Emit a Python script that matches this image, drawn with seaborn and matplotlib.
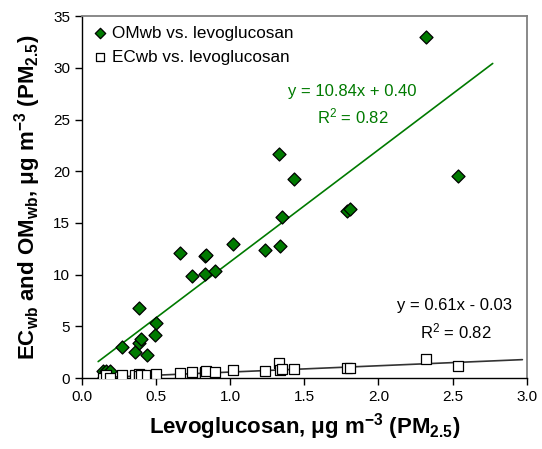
import matplotlib
matplotlib.use("Agg")
import matplotlib.pyplot as plt
import numpy as np
import pandas as pd
import seaborn as sns

# Levoglucosan concentrations (ug m-3) for each sample
levoglucosan = [0.144, 0.165, 0.193, 0.27, 0.357, 0.387, 0.387, 0.396, 0.436,
                0.492, 0.499, 0.665, 0.744, 0.829, 0.829, 0.84, 0.897, 1.02,
                1.234, 1.328, 1.335, 1.347, 1.427, 1.785, 1.807, 2.32, 2.533]
# Wood-burning organic matter (ug m-3)
om_wb = [0.70, 0.70, 0.70, 3.03, 2.48, 6.77, 3.42, 3.77, 2.19,
         4.16, 5.35, 12.1, 9.9, 10.06, 11.8, 11.9, 10.35, 12.96,
         12.4, 21.66, 12.8, 15.6, 19.27, 16.15, 16.34, 32.95, 19.57]
# Wood-burning elemental carbon (ug m-3)
ec_wb = [0.05, 0.25, 0.05, 0.30, 0.25, 0.40, 0.20, 0.30, 0.25,
         0.30, 0.35, 0.48, 0.58, 0.60, 0.45, 0.68, 0.58, 0.74,
         0.70, 1.42, 0.77, 0.85, 0.87, 1.00, 1.00, 1.84, 1.16]

# Linear fits: slope, intercept, R^2, x-extent of the trend line
om_fit = (10.84, 0.40, 0.82, (0.11, 2.77))
ec_fit = (0.61, -0.03, 0.82, (0.11, 2.97))

sns.set_style("white")
plt.rcParams["font.family"] = ["Liberation Sans", "DejaVu Sans"]
plt.rcParams["mathtext.default"] = "regular"
plt.rcParams["text.color"] = "black"
plt.rcParams["axes.labelcolor"] = "black"

green = "#007a00"

fig = plt.figure(figsize=(5.42, 4.49), dpi=100)
ax = fig.add_axes([0.151, 0.158, 0.821, 0.806])

df = pd.DataFrame({"lev": levoglucosan, "om": om_wb, "ec": ec_wb})

sns.scatterplot(data=df, x="lev", y="om", marker="D", s=44, color=green,
                edgecolor="black", linewidth=0.9, ax=ax, zorder=3,
                label="OMwb vs. levoglucosan")
sns.scatterplot(data=df, x="lev", y="ec", marker="s", s=48, color="white",
                edgecolor="black", linewidth=0.9, ax=ax, zorder=3,
                label="ECwb vs. levoglucosan")

for (m, b, r2, (x0, x1)), col in [(om_fit, green), (ec_fit, "#333333")]:
    xs = np.array([x0, x1])
    ax.plot(xs, m * xs + b, color=col, lw=1.2, zorder=2)

ax.text(1.82, 27.75, f"y = {om_fit[0]:.2f}x + {om_fit[1]:.2f}", color=green,
        fontsize=12, ha="center", va="center")
ax.text(1.83, 25.3, f"R$^2$ = {om_fit[2]:.2f}", color=green, fontsize=12,
        ha="center", va="center")
ax.text(2.515, 7.06, f"y = {ec_fit[0]:.2f}x - {abs(ec_fit[1]):.2f}",
        color="black", fontsize=12, ha="center", va="center")
ax.text(2.52, 4.5, f"R$^2$ = {ec_fit[2]:.2f}", color="black", fontsize=12,
        ha="center", va="center")

ax.set_xlim(0, 3.0)
ax.set_ylim(0, 35)
ax.set_xticks(np.arange(0, 3.01, 0.5))
ax.set_yticks(np.arange(0, 36, 5))
ax.set_xticklabels([f"{v:.1f}" for v in np.arange(0, 3.01, 0.5)])
ax.tick_params(axis="both", direction="out", length=5, width=1,
               labelsize=11, colors="black", bottom=True, left=True)

for side in ["left", "bottom"]:
    ax.spines[side].set_color("black")
    ax.spines[side].set_linewidth(1.0)
for side in ["top", "right"]:
    ax.spines[side].set_color("#808080")
    ax.spines[side].set_linewidth(1.3)

ax.set_xlabel(r"Levoglucosan, μg m$^{-3}$ (PM$_{2.5}$)", fontsize=16,
              fontweight="bold", labelpad=5)
ax.set_ylabel(r"EC$_{wb}$ and OM$_{wb}$, μg m$^{-3}$ (PM$_{2.5}$)",
              fontsize=16, fontweight="bold", labelpad=7)

leg = ax.legend(loc="upper left", frameon=False, fontsize=12.3,
                handletextpad=0.2, handlelength=1.0, borderaxespad=0.25,
                borderpad=0.3, labelspacing=0.55, markerscale=0.8)
for t in leg.get_texts():
    t.set_color("black")

fig.savefig("out.png", dpi=100)
